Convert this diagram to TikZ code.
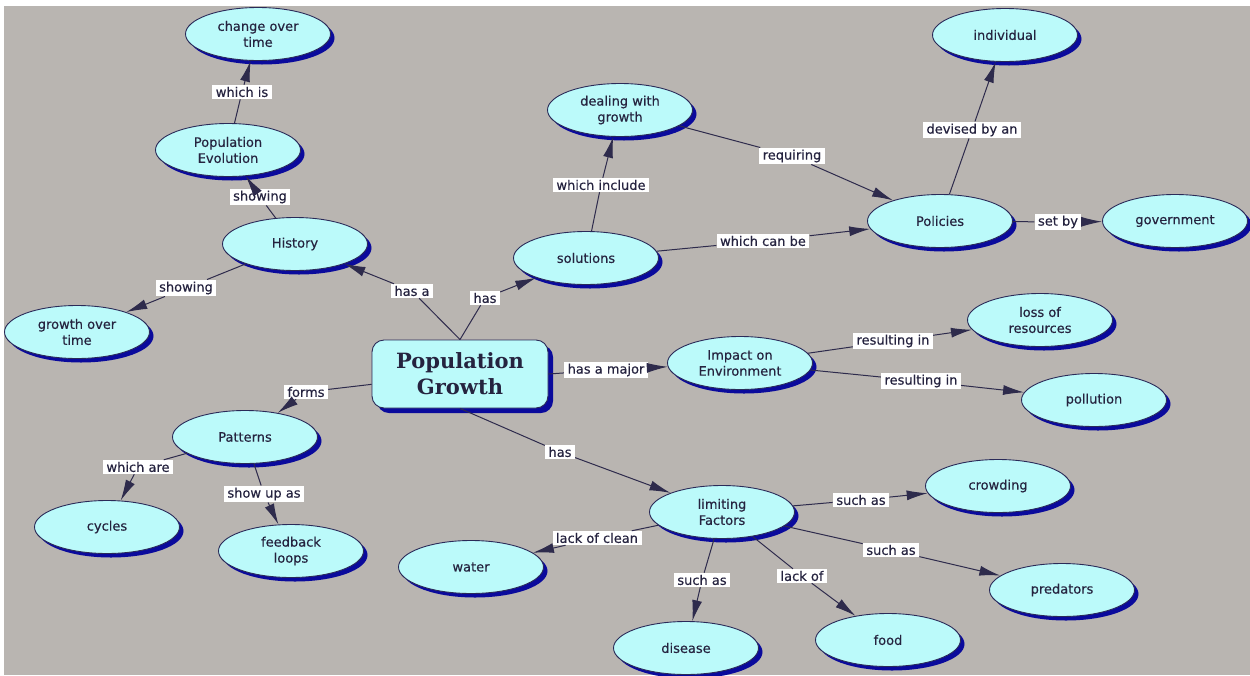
\documentclass[tikz,border=0pt]{standalone}
\usepackage{fontspec}
\setmainfont{DejaVu Sans}
\newfontfamily\cmapfont{DejaVu Sans}[FakeBold=0.4]
\newfontfamily\titlefont{DejaVu Serif}
\usetikzlibrary{shapes.geometric,arrows.meta,shadows}
\definecolor{bgray}{HTML}{B9B5B1}
\definecolor{cfill}{HTML}{BBFAFA}
\definecolor{cline}{HTML}{2A2A58}
\definecolor{cshade}{HTML}{0A0A9C}
\definecolor{ltext}{HTML}{25233F}
\definecolor{lline}{HTML}{2E2B4C}
\tikzset{
  concept/.style={ellipse, draw=cline, line width=0.9pt, fill=cfill, minimum width=145pt, minimum height=53pt, inner sep=0pt, align=center, text=ltext, font=\cmapfont\fontsize{13}{16}\selectfont, drop shadow={shadow xshift=4pt, shadow yshift=-4pt, fill=cshade, opacity=1}},
  topic/.style={rectangle, rounded corners=12pt, draw=cline, line width=0.9pt, fill=cfill, minimum width=176pt, minimum height=68pt, align=center, text=ltext, font=\titlefont\bfseries\fontsize{21}{26}\selectfont, drop shadow={shadow xshift=5pt, shadow yshift=-5pt, fill=cshade, opacity=1}},
  linkword/.style={fill=white, inner xsep=3.5pt, inner ysep=2pt, text=ltext, font=\cmapfont\fontsize{13}{15}\selectfont},
  link/.style={draw=lline, line width=1pt},
  tolink/.style={link, -{Latex[length=21pt,width=10pt]}}
}
\begin{document}
\begin{tikzpicture}[x=1pt,y=-1pt]
\useasboundingbox (0,0) rectangle (1250,675);
\fill[white] (0,0) rectangle (1250,675);
\fill[bgray] (4,6) rectangle (1250,675);
%Concepts
\node[topic] (pg) at (460,374) {Population\\Growth};
\node[concept] (chg) at (258,34) {change over\\time};
\node[concept] (evo) at (228,150) {Population\\Evolution};
\node[concept] (hist) at (295,244) {History};
\node[concept] (gro) at (77,332) {growth over\\time};
\node[concept] (sol) at (586,258) {solutions};
\node[concept] (deal) at (620,110) {dealing with\\growth};
\node[concept] (indiv) at (1005,35) {individual};
\node[concept] (pol) at (940,221) {Policies};
\node[concept] (gov) at (1175,221) {government};
\node[concept] (imp) at (740,363) {Impact on\\Environment};
\node[concept] (loss) at (1040,320) {loss of\\resources};
\node[concept] (poll) at (1094,400) {pollution};
\node[concept] (pat) at (245,437) {Patterns};
\node[concept] (cyc) at (107,527) {cycles};
\node[concept] (feed) at (291,551) {feedback\\loops};
\node[concept] (lim) at (722,512) {limiting\\Factors};
\node[concept] (crowd) at (998,486) {crowding};
\node[concept] (pred) at (1062,590) {predators};
\node[concept] (wat) at (471,567) {water};
\node[concept] (dis) at (686,648) {disease};
\node[concept] (food) at (888,640) {food};
%Link words
\node[linkword] (lhasa) at (412,291) {has a};
\node[linkword] (lhas) at (485,298) {has};
\node[linkword] (lshow1) at (260,197) {showing};
\node[linkword] (lwhich) at (242,92) {which is};
\node[linkword] (lshow2) at (186,288) {showing};
\node[linkword] (lincl) at (601,185) {which include};
\node[linkword] (lreq) at (792,156) {requiring};
\node[linkword] (lcan) at (763,241) {which can be};
\node[linkword] (ldev) at (972,130) {devised by an};
\node[linkword] (lset) at (1058,222) {set by};
\node[linkword] (lmajor) at (606,370) {has a major};
\node[linkword] (lres1) at (893,341) {resulting in};
\node[linkword] (lres2) at (921,381) {resulting in};
\node[linkword] (lforms) at (306,392) {forms};
\node[linkword] (lare) at (138,467) {which are};
\node[linkword] (lshowup) at (264,494) {show up as};
\node[linkword] (lhas2) at (560,452) {has};
\node[linkword] (lclean) at (597,538) {lack of clean};
\node[linkword] (lsuch1) at (861,500) {such as};
\node[linkword] (lsuch2) at (891,550) {such as};
\node[linkword] (lsuch3) at (702,580) {such as};
\node[linkword] (llack) at (802,576) {lack of};
%Links
\draw[link] (pg.north) -- (lhasa); \draw[tolink] (lhasa) -- (hist);
\draw[link] (pg.north) -- (lhas); \draw[tolink] (lhas) -- (sol);
\draw[link] (hist) -- (lshow1); \draw[tolink] (lshow1) -- (evo);
\draw[link] (evo) -- (lwhich); \draw[tolink] (lwhich) -- (chg);
\draw[link] (hist) -- (lshow2); \draw[tolink] (lshow2) -- (gro);
\draw[link] (sol) -- (lincl); \draw[tolink] (lincl) -- (deal);
\draw[link] (deal) -- (lreq); \draw[tolink] (lreq) -- (pol);
\draw[link] (sol) -- (lcan); \draw[tolink] (lcan) -- (pol);
\draw[link] (pol) -- (ldev); \draw[tolink] (ldev) -- (indiv);
\draw[link] (pol) -- (lset); \draw[tolink] (lset) -- (gov);
\draw[link] (pg.east) -- (lmajor); \draw[tolink] (lmajor) -- (imp);
\draw[link] (imp) -- (lres1); \draw[tolink] (lres1) -- (loss);
\draw[link] (imp) -- (lres2); \draw[tolink] (lres2) -- (poll);
\draw[link] (pg) -- (lforms); \draw[tolink] (lforms) -- (pat);
\draw[link] (pat) -- (lare); \draw[tolink] (lare) -- (cyc);
\draw[link] (pat) -- (lshowup); \draw[tolink] (lshowup) -- (feed);
\draw[link] (pg.south) -- (lhas2); \draw[tolink] (lhas2) -- (lim);
\draw[link] (lim) -- (lclean); \draw[tolink] (lclean) -- (wat);
\draw[link] (lim) -- (lsuch1); \draw[tolink] (lsuch1) -- (crowd);
\draw[link] (lim) -- (lsuch2); \draw[tolink] (lsuch2) -- (pred);
\draw[link] (lim) -- (lsuch3); \draw[tolink] (lsuch3) -- (dis);
\draw[link] (lim) -- (llack); \draw[tolink] (llack) -- (food);
\end{tikzpicture}
\end{document}
